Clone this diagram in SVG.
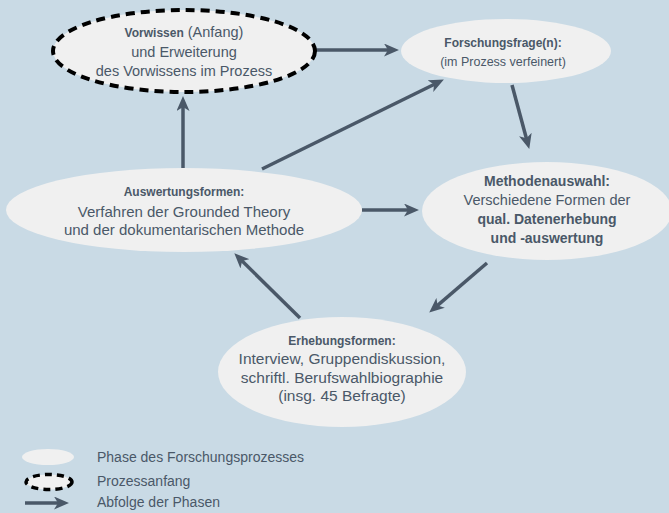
<svg xmlns="http://www.w3.org/2000/svg" width="669" height="513" viewBox="0 0 669 513">
<defs>
<style>
.bg{fill:#c9dae5}
.node{fill:#f0f0f0}
.start{fill:#f0f0f0;stroke:#000;stroke-width:4;stroke-dasharray:9 6}
.t{font-family:"Liberation Sans",Arial,sans-serif;fill:#4a5868;text-anchor:middle;font-size:14.5px}
.b{font-weight:bold;font-size:12px}
.s{font-size:12.5px}
.bb{font-weight:bold;font-size:14px}
.lg{text-anchor:start;font-size:14px}
.c{stroke:#4a5868;stroke-width:3.5;fill:none;marker-end:url(#ah)}
</style>
<marker id="ah" markerUnits="userSpaceOnUse" markerWidth="15" markerHeight="13" viewBox="0 0 15 13" refX="9" refY="6.5" orient="auto">
<path d="M0,0 L15,6.5 L0,13 L4,6.5 z" fill="#4a5868"/>
</marker>
</defs>
<rect class="bg" x="0" y="0" width="669" height="513"/>
<g id="connectors">
<line class="c" x1="316" y1="50" x2="393" y2="50"/>
<line class="c" x1="183" y1="168" x2="183" y2="102"/>
<line class="c" x1="262" y1="169" x2="438.5" y2="82.2"/>
<line class="c" x1="512" y1="85" x2="527.7" y2="143.2"/>
<line class="c" x1="362" y1="210" x2="413" y2="210"/>
<line class="c" x1="487" y1="263" x2="433.8" y2="308.7"/>
<line class="c" x1="300" y1="318" x2="238.6" y2="257.5"/>
</g>
<g id="vorwissen">
<ellipse class="start" cx="184" cy="51" rx="131" ry="41"/>
<text class="t" x="184" y="37"><tspan class="b">Vorwissen</tspan> (Anfang)</text>
<text class="t" x="184" y="57">und Erweiterung</text>
<text class="t" x="184" y="76">des Vorwissens im Prozess</text>
</g>
<g id="forschungsfrage">
<ellipse class="node" cx="506" cy="51" rx="105" ry="32"/>
<text class="t b" x="503" y="47">Forschungsfrage(n):</text>
<text class="t s" x="503" y="66">(im Prozess verfeinert)</text>
</g>
<g id="auswertungsformen">
<ellipse class="node" cx="184" cy="210" rx="178" ry="42"/>
<text class="t b" x="184" y="196">Auswertungsformen:</text>
<text class="t" x="184" y="217" style="font-size:15px">Verfahren der Grounded Theory</text>
<text class="t" x="184" y="235" style="font-size:15px">und der dokumentarischen Methode</text>
</g>
<g id="methodenauswahl">
<ellipse class="node" cx="547" cy="211" rx="125" ry="49"/>
<text class="t bb" x="547" y="186">Methodenauswahl:</text>
<text class="t" x="547" y="205">Verschiedene Formen der</text>
<text class="t bb" x="547" y="224">qual. Datenerhebung</text>
<text class="t bb" x="547" y="243">und -auswertung</text>
</g>
<g id="erhebungsformen">
<ellipse class="node" cx="342" cy="372" rx="124" ry="55"/>
<text class="t b" x="342" y="345">Erhebungsformen:</text>
<text class="t" x="342" y="364" style="font-size:15.5px">Interview, Gruppendiskussion,</text>
<text class="t" x="342" y="383" style="font-size:15.5px">schriftl. Berufswahlbiographie</text>
<text class="t" x="342" y="401" style="font-size:15.5px">(insg. 45 Befragte)</text>
</g>
<g id="legend">
<ellipse class="node" cx="48" cy="457" rx="26" ry="8"/>
<ellipse class="start" cx="49" cy="482" rx="23" ry="7.5" style="stroke-width:3.5;stroke-dasharray:7 5"/>
<line class="c" x1="25" y1="503" x2="63" y2="503"/>
<text class="t lg" x="97" y="462">Phase des Forschungsprozesses</text>
<text class="t lg" x="97" y="486">Prozessanfang</text>
<text class="t lg" x="97" y="507">Abfolge der Phasen</text>
</g>
</svg>
